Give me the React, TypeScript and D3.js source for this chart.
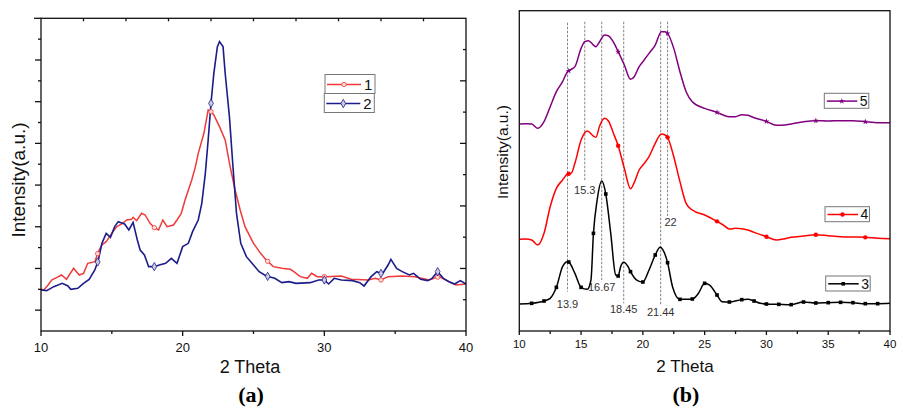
import * as d3 from 'd3'

// panel (a): [2theta, intensity]
const sample1: [number, number][] = [
  [10, 12.5], [10.2, 12.3], [10.5, 13.8], [10.75, 15.3], [11.1, 16.0], [11.45, 16.8], [11.8, 15.5], [12.3, 18.8],
  [12.7, 16.8], [13.0, 17.3], [13.3, 20.3], [13.8, 20.8], [14.05, 23.8], [14.3, 25.8], [14.6, 26.8],
  [15.0, 29.3], [15.35, 31.3], [15.7, 32.1], [16.05, 33.3], [16.4, 33.5], [16.5, 34.1], [16.75, 33.1],
  [17.1, 35.3], [17.35, 34.8], [17.7, 32.3], [18.0, 31.0], [18.3, 30.3], [18.6, 33.3], [18.9, 31.3],
  [19.35, 31.8], [19.6, 33.3], [19.9, 35.3], [20.17, 39.3], [20.64, 45.3], [20.9, 49.3], [21.1, 53.3],
  [21.5, 59.3], [21.8, 66.3], [22.0, 65.8], [22.2, 64.8], [22.6, 61.3], [23.0, 57.3], [23.35, 49.3],
  [23.7, 42.3], [24.06, 36.3], [24.4, 31.3], [25.0, 26.3], [25.5, 23.3], [25.9, 21.3], [26.4, 19.3],
  [27.0, 18.8], [27.6, 18.5], [27.85, 17.8], [28.3, 16.3], [28.8, 15.8], [29.1, 17.3], [29.5, 16.3],
  [30.2, 16.3], [31.2, 16.5], [31.9, 15.5], [33.1, 15.3], [33.6, 15.8], [34.0, 15.3], [34.5, 16.3],
  [35.5, 16.5], [36.4, 16.3], [37.4, 15.3], [38.1, 16.3], [38.8, 14.8], [39.3, 13.8], [40, 14.1],
]
const sample2: [number, number][] = [
  [10, 12.3], [10.4, 12.1], [10.9, 13.3], [11.5, 14.3], [11.9, 13.5], [12.1, 12.5], [12.6, 12.8],
  [13.0, 14.3], [13.4, 15.5], [13.8, 18.3], [14.05, 21.3], [14.3, 26.3], [14.6, 29.3], [14.9, 28.1],
  [15.2, 31.3], [15.45, 32.8], [15.9, 32.1], [16.2, 30.3], [16.5, 32.6], [16.8, 27.3], [17.0, 24.3],
  [17.3, 22.8], [17.6, 19.3], [18.0, 19.3], [18.35, 19.8], [18.8, 20.3], [19.2, 21.8], [19.6, 20.3],
  [20.0, 25.3], [20.4, 26.3], [20.7, 29.8], [21.1, 33.3], [21.35, 38.3], [21.6, 47.3], [21.8, 57.3],
  [22.0, 68.3], [22.2, 77.3], [22.45, 85.3], [22.6, 86.8], [22.85, 85.3], [23.0, 77.3], [23.3, 64.3],
  [23.55, 49.3], [23.8, 35.3], [24.1, 26.3], [24.5, 22.3], [25.0, 19.8], [25.4, 17.8], [25.9, 16.5],
  [26.5, 15.8], [27.0, 14.5], [27.5, 14.8], [28.0, 14.3], [29.0, 14.5], [29.6, 15.3], [30.0, 15.3],
  [30.3, 14.1], [30.7, 15.8], [31.2, 15.3], [32.0, 15.1], [32.5, 14.5], [32.8, 13.5], [33.3, 16.3],
  [33.7, 17.8], [34.1, 17.1], [34.5, 19.8], [34.7, 21.5], [35.1, 18.8], [35.5, 17.8], [36.0, 16.8],
  [36.3, 17.3], [36.8, 15.5], [37.3, 15.1], [37.6, 15.8], [38.0, 17.8], [38.4, 15.8], [38.8, 14.8],
  [39.2, 14.1], [39.6, 15.1], [40, 14.1],
]

// panel (b)
const sample3: [number, number][] = [
  [10, 8.1], [11, 8.3], [12, 9.0], [12.5, 9.8], [13, 13.1], [13.5, 19.3], [13.9, 20.8], [14, 20.7],
  [14.5, 17.3], [15, 13.1], [15.5, 12.5], [15.8, 15.3], [16, 29.3], [16.3, 39.3], [16.67, 45.0],
  [17, 41.1], [17.4, 29.3], [17.8, 16.8], [18, 16.5], [18.2, 19.3], [18.45, 20.6], [18.8, 19.3],
  [19, 17.8], [19.5, 15.3], [20, 14.7], [20.5, 18.3], [21, 22.8], [21.4, 25.1], [21.6, 24.5],
  [22, 20.5], [22.4, 13.3], [23, 9.5], [23.5, 9.5], [24, 9.6], [24.5, 11.3], [25, 14.3], [25.4, 13.8],
  [26, 10.8], [26.4, 8.8], [27, 8.7], [28, 9.4], [28.5, 9.5], [29, 9.0], [29.5, 8.3], [30, 8.1],
  [31, 8.0], [32, 7.9], [33, 8.7], [34, 8.4], [35, 8.5], [36, 8.6], [37, 8.5], [38, 8.2], [39, 8.2], [40, 8.3],
]
const sample4: [number, number][] = [
  [10, 27.5], [10.5, 27.6], [11, 27.3], [11.5, 25.8], [12, 29.3], [12.5, 37.3], [13, 42.8], [13.5, 45.3],
  [13.9, 47.1], [14.2, 47.3], [14.5, 50.3], [15, 57.3], [15.3, 59.5], [15.5, 60.0], [16, 58.5],
  [16.2, 58.1], [16.5, 61.5], [16.9, 63.8], [17.2, 63.1], [17.6, 59.5], [18, 55.6], [18.5, 48.8],
  [19, 42.7], [19.3, 44.5], [19.7, 48.3], [20, 49.8], [20.5, 52.3], [21, 56.3], [21.5, 59.1],
  [21.8, 58.8], [22, 58.1], [22.5, 52.3], [23, 44.8], [23.5, 38.3], [24, 36.3], [25, 34.8],
  [26, 32.9], [26.5, 31.8], [27, 30.6], [27.5, 30.8], [28, 30.7], [28.5, 30.3], [29, 29.6],
  [30, 28.3], [30.8, 27.3], [31.5, 27.7], [32, 28.1], [33, 28.5], [34, 28.9], [35, 28.6], [36, 28.3],
  [37, 28.2], [38, 28.1], [39, 27.8], [40, 27.7],
]
const sample5: [number, number][] = [
  [10, 62.1], [10.5, 62.2], [11, 62.1], [11.5, 60.8], [12, 62.8], [12.5, 67.3], [13, 71.8], [13.5, 74.8],
  [13.9, 77.8], [14.2, 78.5], [14.5, 79.3], [15, 84.8], [15.3, 86.8], [15.6, 87.1], [16, 85.8],
  [16.2, 85.3], [16.5, 86.8], [16.9, 88.8], [17.2, 88.6], [17.6, 86.8], [18, 83.8], [18.5, 79.8],
  [19, 75.5], [19.3, 76.3], [19.7, 79.3], [20, 80.8], [20.5, 83.3], [21, 85.8], [21.5, 89.8],
  [21.8, 89.8], [22, 89.3], [22.5, 84.8], [23, 77.8], [23.5, 71.8], [24, 68.8], [25, 66.8],
  [26, 65.6], [26.5, 64.8], [27, 64.3], [27.5, 64.3], [28, 64.9], [28.5, 64.7], [29, 64.0],
  [30, 62.9], [30.8, 61.7], [31.5, 61.8], [32, 62.1], [33, 62.8], [34, 63.1], [35, 63.0], [36, 63.1],
  [37, 63.1], [38, 62.8], [39, 62.5], [40, 62.5],
]

const markA = [14, 18, 22, 26, 30, 34, 38]
const markSquare = d3.range(11, 40)
const peaks = [13.9, 15.3, 16.67, 18.45, 21.44, 22]
const peakEnd = [11.8, 44.8, 15.3, 8.3, 7.8, 34.5]
const peakLabelY = [8.0, 42.3, 13.3, 6.5, 5.6, 32.8]

const FONT = "Arial, 'Liberation Sans', sans-serif"
const RED_A = '#f03a3a'
const BLUE_A = '#1c1c8a'
const PURPLE = '#800080'

function at(s: [number, number][], x: number) {
  const i = d3.bisector((d: [number, number]) => d[0]).left(s, x)
  if (i <= 0) return s[0][1]
  if (i >= s.length) return s[s.length - 1][1]
  const [x0, y0] = s[i - 1]
  const [x1, y1] = s[i]
  return y0 + ((x - x0) / (x1 - x0)) * (y1 - y0)
}

const diamond = d3.symbol(d3.symbolDiamond, 20)()
const star = d3.symbol(d3.symbolStar, 11)()

export default function App() {
  // panel a scales
  const xa = d3.scaleLinear().domain([10, 40]).range([41, 466])
  const yaMax = 93.8
  const ya = d3.scaleLinear().domain([0, yaMax]).range([331, 18.3])
  // panel b scales
  const xb = d3.scaleLinear().domain([10, 40]).range([519.3, 890])
  const yb = d3.scaleLinear().domain([0, 96.1]).range([331, 10.7])

  const lineA = d3.line<[number, number]>().x((d) => xa(d[0])).y((d) => ya(d[1]))
  const lineB = d3
    .line<[number, number]>()
    .x((d) => xb(d[0]))
    .y((d) => yb(d[1]))
    .curve(d3.curveMonotoneX)

  const leftTicks = d3.range(1, 15).map((k) => ({ y: ya((k * yaMax) / 15), major: k % 2 === 1 }))
  const rightTicks = d3.range(1, 10).map((k) => ({ y: ya((k * yaMax) / 10), major: k % 2 === 0 }))
  const topTicks = d3.range(13, 40, 3)

  const ax = { stroke: '#111', strokeWidth: 1.3, fill: 'none' }

  return (
    <svg width={897} height={408} style={{ position: 'absolute', left: 0, top: 0, background: '#fff' }} fontFamily={FONT}>
      {/* ---------- panel (a) ---------- */}
      <g>
        <path d={lineA(sample1)!} stroke={RED_A} strokeWidth={1.5} fill="none" />
        <path d={lineA(sample2)!} stroke={BLUE_A} strokeWidth={1.6} fill="none" />
        {markA.map((t) => (
          <circle key={'r' + t} cx={xa(t)} cy={ya(at(sample1, t))} r={2.2} fill="#fdd" stroke={RED_A} strokeWidth={0.8} />
        ))}
        {markA.map((t) => (
          <path key={'b' + t} d={diamond!} transform={`translate(${xa(t)},${ya(at(sample2, t))})`} fill="#ccd" stroke={BLUE_A} strokeWidth={0.8} />
        ))}
        <rect x={xa(10)} y={ya(yaMax)} width={xa(40) - xa(10)} height={ya(0) - ya(yaMax)} {...ax} />
        <line x1={xa(10) - 7} x2={xa(10)} y1={ya(yaMax)} y2={ya(yaMax)} {...ax} />
        {leftTicks.map((t, i) => (
          <line key={'lt' + i} x1={xa(10)} x2={xa(10) - (t.major ? 6 : 3)} y1={t.y} y2={t.y} {...ax} />
        ))}
        {rightTicks.map((t, i) => (
          <line key={'rt' + i} x1={xa(40)} x2={xa(40) - (t.major ? 6 : 3)} y1={t.y} y2={t.y} {...ax} />
        ))}
        {topTicks.map((t) => (
          <line key={'tt' + t} x1={xa(t)} x2={xa(t)} y1={ya(yaMax)} y2={ya(yaMax) + 3} {...ax} />
        ))}
        {d3.range(10, 41, 5).map((t) => (
          <line key={'bt' + t} x1={xa(t)} x2={xa(t)} y1={ya(0)} y2={ya(0) + (t % 10 === 0 ? 5 : 3)} {...ax} />
        ))}
        {[10, 20, 30, 40].map((t) => (
          <text key={'bl' + t} x={xa(t)} y={352} fontSize={13} textAnchor="middle" fill="#111">
            {t}
          </text>
        ))}
        <text x={250} y={373} fontSize={18} textAnchor="middle" fill="#111">2 Theta</text>
        <text transform="translate(25,180) rotate(-90)" fontSize={19} textAnchor="middle" fill="#111">Intensity(a.u.)</text>
        <text x={251} y={402} fontSize={22} fontWeight="bold" fontFamily="'Liberation Serif', 'Times New Roman', serif" textAnchor="middle">(a)</text>

        {/* legend */}
        {[
          { label: '1', color: RED_A, y0: 74.5, dx: 0 },
          { label: '2', color: BLUE_A, y0: 93.5, dx: -0.7 },
        ].map((l, i) => (
          <g key={'lg' + i}>
            <rect x={325 + l.dx} y={l.y0} width={50} height={19} fill="#fff" stroke="#777" strokeWidth={1} />
            <line x1={327 + l.dx} x2={361 + l.dx} y1={l.y0 + 10} y2={l.y0 + 10} stroke={l.color} strokeWidth={1.5} />
            {i === 0 ? (
              <circle cx={344 + l.dx} cy={l.y0 + 10} r={2.2} fill="#fdd" stroke={l.color} strokeWidth={0.8} />
            ) : (
              <path d={diamond!} transform={`translate(${344 + l.dx},${l.y0 + 10})`} fill="#ccd" stroke={l.color} strokeWidth={0.8} />
            )}
            <text x={364 + l.dx} y={l.y0 + 15.5} fontSize={15} fill="#111">{l.label}</text>
          </g>
        ))}
      </g>

      {/* ---------- panel (b) ---------- */}
      <g>
        {peaks.map((p, i) => (
          <line key={'pk' + i} x1={xb(p)} x2={xb(p)} y1={yb(i === 0 ? 92.5 : 92.8)} y2={yb(peakEnd[i])} stroke="#666" strokeWidth={0.8} strokeDasharray="2.5,1.5" />
        ))}
        {peaks.map((p, i) => (
          <text key={'pl' + i} x={xb(p) + (i === 5 ? 3 : 0)} y={yb(peakLabelY[i])} dy="0.35em" fontSize={11} textAnchor="middle" fill="#333">
            {String(p)}
          </text>
        ))}
        <path d={lineB(sample5)!} stroke={PURPLE} strokeWidth={1.5} fill="none" />
        <path d={lineB(sample4)!} stroke="#ff0000" strokeWidth={1.5} fill="none" />
        <path d={lineB(sample3)!} stroke="#000" strokeWidth={1.5} fill="none" />
        {markSquare.map((t) => (
          <rect key={'sq' + t} x={xb(t) - 1.8} y={yb(at(sample3, t)) - 1.8} width={3.6} height={3.6} fill="#000" />
        ))}
        {markA.map((t) => (
          <circle key={'c4' + t} cx={xb(t)} cy={yb(at(sample4, t))} r={2.2} fill="#ff0000" />
        ))}
        {markA.map((t) => (
          <path key={'s5' + t} d={star!} transform={`translate(${xb(t)},${yb(at(sample5, t))})`} fill={PURPLE} />
        ))}
        <rect x={xb(10)} y={yb(96.1)} width={xb(40) - xb(10)} height={yb(0) - yb(96.1)} {...ax} />
        {d3.range(10, 40.1, 2.5).map((t) => (
          <line key={'bbt' + t} x1={xb(t)} x2={xb(t)} y1={yb(0)} y2={yb(0) + (t % 5 === 0 ? 4 : 3)} {...ax} />
        ))}
        {d3.range(10, 41, 5).map((t) => (
          <text key={'bbl' + t} x={xb(t)} y={348} fontSize={11.5} textAnchor="middle" fill="#111">{t}</text>
        ))}
        <text x={685} y={372} fontSize={17} textAnchor="middle" fill="#111">2 Theta</text>
        <text transform="translate(507.5,152) rotate(-90)" fontSize={15.5} textAnchor="middle" fill="#111">Intensity(a.u.)</text>
        <text x={686} y={402} fontSize={22} fontWeight="bold" fontFamily="'Liberation Serif', 'Times New Roman', serif" textAnchor="middle">(b)</text>

        {[
          { label: '5', color: PURPLE, x0: 824.3, y0: 93.3, kind: 'star' },
          { label: '4', color: '#ff0000', x0: 825, y0: 206.7, kind: 'circle' },
          { label: '3', color: '#000', x0: 825.7, y0: 276, kind: 'square' },
        ].map((l) => (
          <g key={'lgb' + l.label}>
            <rect x={l.x0} y={l.y0} width={44.5} height={15} fill="#fff" stroke="#777" strokeWidth={1} />
            <line x1={l.x0 + 2.5} x2={l.x0 + 33} y1={l.y0 + 7.8} y2={l.y0 + 7.8} stroke={l.color} strokeWidth={1.5} />
            {l.kind === 'star' && <path d={star!} transform={`translate(${l.x0 + 17.5},${l.y0 + 7.8})`} fill={l.color} />}
            {l.kind === 'circle' && <circle cx={l.x0 + 17.5} cy={l.y0 + 7.8} r={2.2} fill={l.color} />}
            {l.kind === 'square' && <rect x={l.x0 + 15.7} y={l.y0 + 6} width={3.6} height={3.6} fill={l.color} />}
            <text x={l.x0 + 35.5} y={l.y0 + 12.5} fontSize={14} fill="#111">{l.label}</text>
          </g>
        ))}
      </g>
    </svg>
  )
}
